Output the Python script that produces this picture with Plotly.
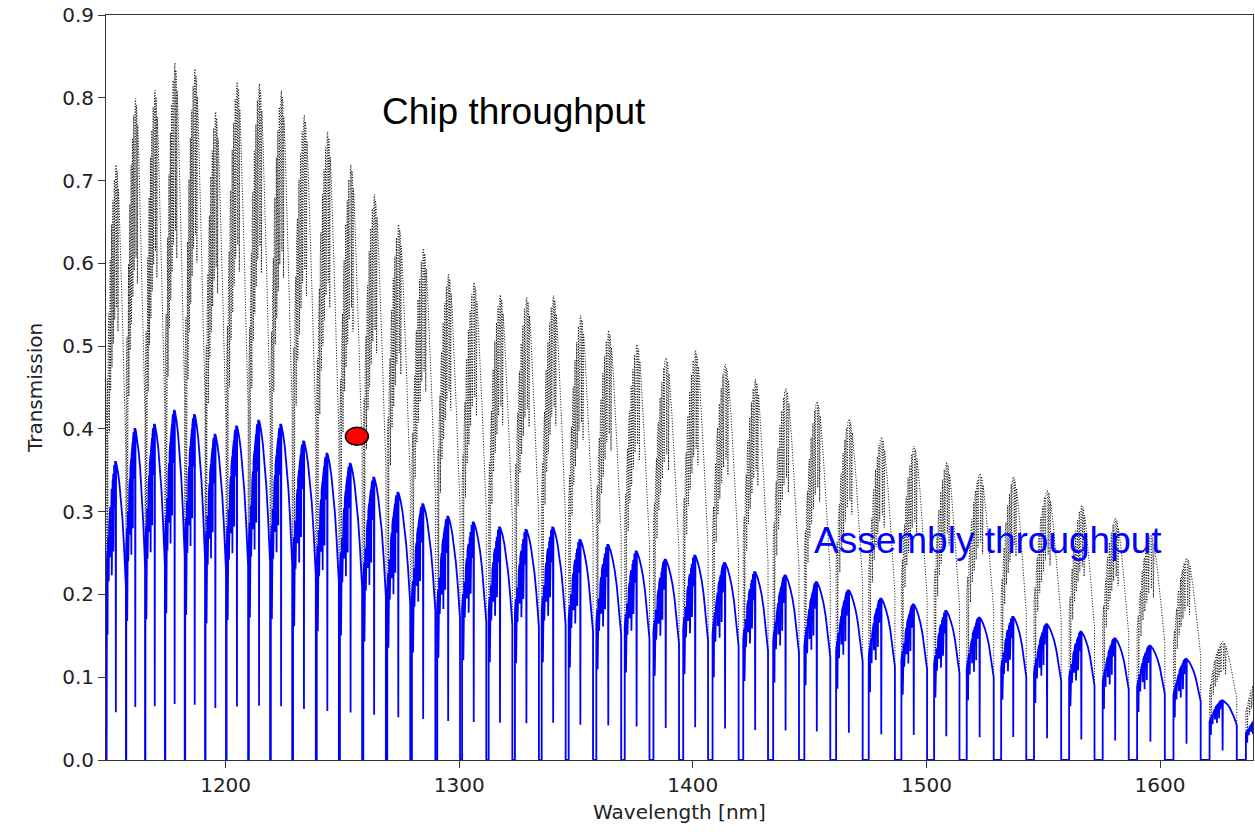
import plotly.graph_objects as go

# ---- data ----
# wavelengths [nm] of the dips (zero transmission) between successive comb lobes
lobe_edges_nm = [1149.0, 1157.4, 1165.6, 1174.1, 1182.6, 1191.3, 1200.3, 1209.8, 1219.2,
                 1228.7, 1238.8, 1248.7, 1258.7, 1268.9, 1279.4, 1290.2, 1300.8, 1312.1,
                 1323.3, 1334.7, 1346.2, 1358.0, 1370.1, 1382.3, 1395.0, 1407.5, 1420.6,
                 1433.3, 1446.6, 1460.1, 1474.0, 1487.9, 1501.8, 1515.7, 1530.4, 1544.4,
                 1559.4, 1573.7, 1588.4, 1603.9, 1619.3, 1634.8, 1650.0]
# width [nm] of the flat zero region at each dip
zero_gap_nm = [0.1, 0.15, 0.15, 0.2, 0.2, 0.2, 0.25, 0.3, 0.3, 0.35, 0.4, 0.45, 0.5, 0.6,
               0.7, 0.8, 0.9, 1.0, 1.1, 1.2, 1.3, 1.4, 1.5, 1.7, 1.8, 1.9, 2.0, 2.2, 2.3,
               2.5, 2.6, 2.8, 3.0, 3.1, 3.2, 3.3, 3.4, 3.5, 3.6, 3.7, 3.8, 3.9, 4.0]
# peak transmission of each lobe
chip_peak = [0.719, 0.799, 0.809, 0.842, 0.835, 0.783, 0.819, 0.817, 0.809, 0.779, 0.759,
             0.719, 0.683, 0.647, 0.618, 0.587, 0.577, 0.562, 0.559, 0.561, 0.537, 0.519,
             0.502, 0.486, 0.495, 0.478, 0.460, 0.449, 0.433, 0.412, 0.390, 0.379, 0.360,
             0.346, 0.342, 0.326, 0.308, 0.292, 0.272, 0.244, 0.143, 0.100]
assembly_peak = [0.360, 0.400, 0.405, 0.422, 0.417, 0.393, 0.403, 0.410, 0.405, 0.385, 0.370,
                 0.358, 0.341, 0.323, 0.309, 0.294, 0.287, 0.281, 0.278, 0.281, 0.266, 0.260,
                 0.252, 0.242, 0.247, 0.238, 0.227, 0.223, 0.215, 0.205, 0.195, 0.188, 0.180,
                 0.172, 0.173, 0.164, 0.155, 0.147, 0.138, 0.122, 0.072, 0.050]
marker_nm = [1256.2]
marker_T = [0.391]
x_ticks = [1200, 1300, 1400, 1500, 1600]
y_ticks = [0.0, 0.1, 0.2, 0.3, 0.4, 0.5, 0.6, 0.7, 0.8, 0.9]

# ---- lobe outline templates (relative position across lobe, fraction of peak) ----
BLUE_T = [0, 0, 0.02, 0.04, 0.05, 0.06, 0.09, 0.11, 0.13, 0.16, 0.19, 0.20, 0.22, 0.26,
          0.27, 0.28, 0.31, 0.32, 0.34, 0.35, 0.36, 0.39, 0.40, 0.41, 0.44, 0.47, 0.48,
          0.49, 0.52, 0.58, 0.66, 0.74, 0.82, 0.90, 0.96, 1.0, 1.0]
BLUE_F = [0, 0.64, 0.67, 0.70, 0.42, 0.72, 0.75, 0.60, 0.78, 0.82, 0.85, 0.68, 0.88, 0.91,
          0.62, 0.92, 0.94, 0.80, 0.96, 0.70, 0.97, 0.99, 0.85, 0.99, 1.0, 1.0, 0.16,
          1.0, 0.99, 0.97, 0.93, 0.88, 0.81, 0.72, 0.64, 0.58, 0]
BLACK_T = [0, 0, 0.04, 0.06, 0.08, 0.12, 0.14, 0.16, 0.19, 0.21, 0.23, 0.26, 0.28, 0.30,
           0.33, 0.35, 0.37, 0.40, 0.42, 0.44, 0.47, 0.50, 0.52, 0.54, 0.57, 0.59, 0.61,
           0.66, 0.72, 0.78, 0.84, 0.90, 0.95, 1.0, 1.0]
BLACK_F = [0, 0.58, 0.64, 0.30, 0.69, 0.75, 0.55, 0.80, 0.84, 0.62, 0.87, 0.90, 0.66, 0.92,
           0.94, 0.70, 0.96, 0.975, 0.74, 0.99, 0.995, 1.0, 0.76, 0.99, 0.98, 0.72, 0.96,
           0.92, 0.86, 0.79, 0.72, 0.64, 0.58, 0.52, 0]


def build(peaks, prof_t, prof_f):
    xs, ys = [], []
    for i, h in enumerate(peaks):
        a = lobe_edges_nm[i] + zero_gap_nm[i] / 2
        b = lobe_edges_nm[i + 1] - zero_gap_nm[i + 1] / 2
        for t, f in zip(prof_t, prof_f):
            xs.append(a + t * (b - a))
            ys.append(h * f)
    return xs, ys


cx, cy = build(chip_peak, BLACK_T, BLACK_F)
ax, ay = build(assembly_peak, BLUE_T, BLUE_F)

fig = go.Figure()
fig.add_trace(go.Scatter(x=cx, y=cy, mode="lines", name="Chip throughput",
                         line=dict(color="black", width=1, dash="1px,1.7px")))
fig.add_trace(go.Scatter(x=ax, y=ay, mode="lines", name="Assembly throughput",
                         line=dict(color="#0000ff", width=1.8)))

fig.add_shape(type="circle", xref="x", yref="y", xsizemode="pixel", ysizemode="pixel",
              xanchor=marker_nm[0], yanchor=marker_T[0], x0=-11.5, x1=11.5, y0=-9, y1=9,
              fillcolor="red", line=dict(color="black", width=1.5))

fig.add_annotation(x=1266.2, y=0.783, xref="x", yref="y", text="Chip throughput",
                   showarrow=False, xanchor="left", yanchor="middle",
                   font=dict(family="Liberation Sans, Arial", size=37, color="black"))
fig.add_annotation(x=1451.1, y=0.2646, xref="x", yref="y", text="Assembly throughput",
                   showarrow=False, xanchor="left", yanchor="middle",
                   font=dict(family="Liberation Sans, Arial", size=37, color="#0000ff"))

axis_font = dict(family="DejaVu Sans", size=20, color="#222222")
fig.update_layout(
    width=1255, height=832,
    margin=dict(l=106, r=2, t=15, b=72),
    plot_bgcolor="white", paper_bgcolor="white",
    showlegend=False,
    font=axis_font,
    xaxis=dict(range=[1148.8, 1639.8], tickvals=x_ticks, ticks="outside", ticklen=7,
               tickwidth=1, tickcolor="#333333", showline=True, linecolor="#333333",
               linewidth=1, mirror=True, showgrid=False, zeroline=False,
               tickfont=axis_font,
               title=dict(text="Wavelength [nm]", font=axis_font, standoff=8)),
    yaxis=dict(range=[0, 0.9], tickvals=y_ticks, tickformat=".1f", ticks="outside",
               ticklen=7, tickwidth=1, tickcolor="#333333", showline=True,
               linecolor="#333333", linewidth=1, mirror=True, showgrid=False,
               zeroline=False, tickfont=axis_font,
               title=dict(text="Transmission", font=axis_font, standoff=14)),
)

fig.write_html("out.html")
